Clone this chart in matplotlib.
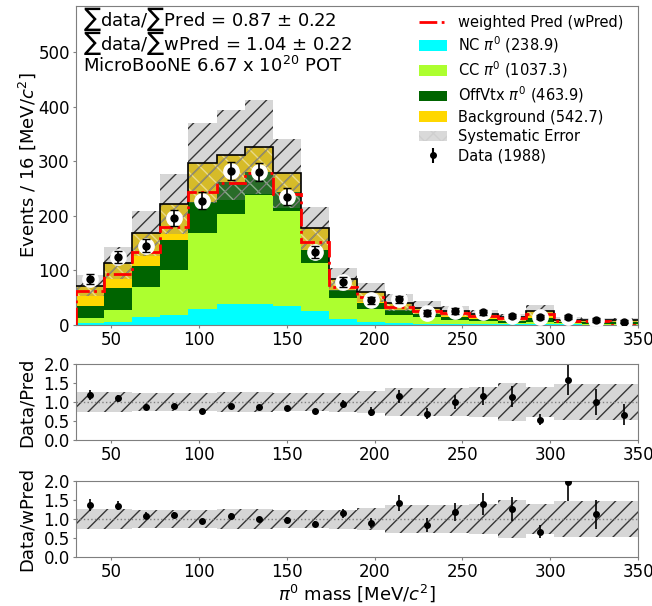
import numpy as np
import matplotlib
matplotlib.use("Agg")
import matplotlib.pyplot as plt
from matplotlib.lines import Line2D
from matplotlib.patches import Patch

# ---------------- data ----------------
bin_edges = np.arange(30, 351, 16)
nc_pi0 = [3, 5, 14, 18, 30, 39, 38, 35, 25, 11, 6, 3, 2, 1.5, 1, 1, 1, 1, 0.7, 0.5]
cc_pi0 = [9, 22, 55, 82, 138, 164, 200, 174, 89, 38, 24, 15, 12, 8, 6, 3, 5, 2, 2, 2]
offvtx_pi0 = [23, 40, 40, 55, 58, 59, 42, 34, 24, 16, 11, 9, 7, 5, 4, 4, 6, 3, 3, 3]
background = [37, 47, 59, 66, 71, 50, 47, 35, 39, 19, 19, 14, 11, 11.5, 9, 6, 14, 3.5, 3.3, 3.5]
syst_err = [19.5, 29, 41, 55, 74, 82, 86, 64, 40, 21, 17.5, 15, 11.5, 9.3, 8, 7, 10, 4.4, 4.3, 4.3]
wpred = [62, 93, 134, 179, 244, 260, 279, 240, 152, 69, 51, 33, 26, 22, 16.4, 12.7, 21, 7.6, 8, 0]
data = [85, 125, 145, 196, 228, 282, 280, 235, 134, 79, 45, 47, 22, 26, 23, 16, 14, 15, 9, 6]

legend_labels = ["weighted Pred (wPred)", r"NC $\pi^0$ (238.9)", r"CC $\pi^0$ (1037.3)",
                 r"OffVtx $\pi^0$ (463.9)", "Background (542.7)", "Systematic Error", "Data (1988)"]
text_lines = [r"$\sum$data/$\sum$Pred = 0.87 $\pm$ 0.22",
              r"$\sum$data/$\sum$wPred = 1.04 $\pm$ 0.22",
              r"MicroBooNE 6.67 x 10$^{20}$ POT"]

# ---------------- derived ----------------
edges = np.asarray(bin_edges, float)
centers = 0.5 * (edges[:-1] + edges[1:])
comps = [np.asarray(c, float) for c in (nc_pi0, cc_pi0, offvtx_pi0, background)]
colors = ["#00FFFF", "#ADFF2F", "#006400", "#FFD700"]
total = np.sum(comps, axis=0)
err = np.asarray(syst_err, float)
d = np.asarray(data, float)
derr = np.sqrt(d)
wp = np.asarray(wpred, float)

W, H = 652, 606
fig = plt.figure(figsize=(W / 100, H / 100), dpi=100)
L, R = 76 / W, 638 / W

def ax_px(top, bottom):
    return fig.add_axes([L, 1 - bottom / H, R - L, (bottom - top) / H])

ax = ax_px(6, 325)
ax1 = ax_px(364, 440)
ax2 = ax_px(481, 557)

spine_col = "#7f7f7f"
for a in (ax, ax1, ax2):
    for s in a.spines.values():
        s.set_color(spine_col)
    a.tick_params(labelsize=12, color=spine_col, length=2.5, pad=2)
    a.set_xlim(30, 350)
    a.set_xticks([50, 100, 150, 200, 250, 300, 350])

# stacked components
bottom = np.zeros_like(total)
for c, col in zip(comps, colors):
    ax.stairs(bottom + c, edges, baseline=bottom, fill=True, color=col, lw=0, zorder=2)
    bottom = bottom + c

# systematic band
ax.stairs(total + err, edges, baseline=total - err, fill=True,
          facecolor=(0.5, 0.5, 0.5, 0.32), edgecolor=(0, 0, 0, 0.75), lw=0, hatch="//", zorder=3)
ax.stairs(total, edges, baseline=total - err, fill=True,
          facecolor=(0, 0, 0, 0), edgecolor=(1, 1, 1, 0.45), lw=0, hatch="xx", zorder=3)
ax.stairs(total, edges, baseline=None, color="black", lw=1.2, zorder=4)
# weighted prediction
ax.stairs(wp, edges, baseline=0, color="red", lw=2, ls="-.", zorder=5)
# data
ax.plot(centers, d, "o", color="white", ms=11, zorder=6)
ax.errorbar(centers, d, yerr=derr, fmt="o", color="black", ms=5, capsize=3, elinewidth=1.2, zorder=7)

ax.set_ylim(0, 585)
ax.set_yticks([0, 100, 200, 300, 400, 500])
ax.set_ylabel(r"Events / 16 [MeV/$c^2$]", fontsize=13)

for t, base in zip(text_lines, (26, 50, 72)):
    ax.text(0.012, 1 - (base - 6) / 319, t, transform=ax.transAxes, fontsize=13,
            va="baseline", ha="left")

handles = [Line2D([], [], color="red", ls="-.", lw=2)]
handles += [Patch(facecolor=c, edgecolor="none") for c in colors]
handles += [Patch(facecolor="#d9d9d9", edgecolor="#cfcfcf", hatch="xx", lw=0)]
eb = ax.errorbar([], [], yerr=[], fmt="o", color="black", ms=4, capsize=2)
handles += [eb]
leg = ax.legend(handles, legend_labels, loc="upper right", fontsize=10.5, frameon=False,
                handlelength=1.9, handletextpad=0.8, borderaxespad=0.0,
                bbox_to_anchor=(0.985, 0.99), labelspacing=0.3)

# ratio panels
for a, denom, lab in ((ax1, total, "Data/Pred"), (ax2, wp, "Data/wPred")):
    rel = err / total
    a.stairs(1 + rel, edges, baseline=1 - rel, fill=True,
             facecolor=(0.5, 0.5, 0.5, 0.32), edgecolor=(0, 0, 0, 0.75), lw=0, hatch="//", zorder=2)
    a.axhline(1, color="grey", ls=":", lw=1, zorder=3)
    safe = np.where(denom > 0, denom, np.nan)
    r = d / safe
    a.errorbar(centers, r, yerr=derr / safe, fmt="o", color="black", ms=4, elinewidth=1.2, zorder=4)
    a.set_ylim(0, 2)
    a.set_yticks([0, 0.5, 1.0, 1.5, 2.0])
    a.set_ylabel(lab, fontsize=13)
ax2.set_xlabel(r"$\pi^0$ mass [MeV/$c^2$]", fontsize=13, labelpad=1)
ax.yaxis.set_label_coords(-0.068, 0.5)
ax1.yaxis.set_label_coords(-0.072, 0.5)
ax2.yaxis.set_label_coords(-0.072, 0.5)

fig.savefig("out.png", dpi=100)
